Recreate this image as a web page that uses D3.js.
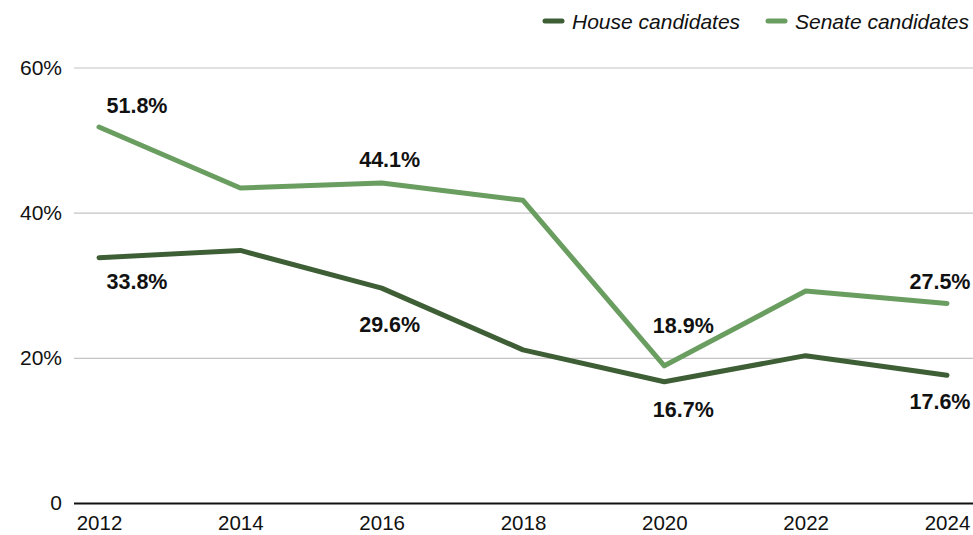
<!DOCTYPE html>
<html>
<head>
<meta charset="utf-8">
<script src="https://cdn.jsdelivr.net/npm/d3@7"></script>
<style>
  body { margin: 0; background: #fff; }
  svg { display: block; font-family: "Liberation Sans", Arial, Helvetica, sans-serif; }
</style>
</head>
<body>
<svg></svg>
<script>
let years = [2012, 2014, 2016, 2018, 2020, 2022, 2024];
let house = [33.8, 34.8, 29.6, 21.1, 16.7, 20.3, 17.6];
let senate = [51.8, 43.4, 44.1, 41.7, 18.9, 29.2, 27.5];
let yTicks = [0, 20, 40, 60];

let seriesNames = ["House candidates", "Senate candidates"];
let colors = ["#3e5f36", "#6a9e60"];

// which points get a value label (series index, year index)
let labelled = [
    [1, 0], [0, 0], [1, 2], [0, 2], [1, 4], [0, 4], [1, 6], [0, 6]
];
// hand nudges for label placement [dx, dy]
let labelNudge = [
    [38, -20], [38, 26], [8, -22], [8, 38], [19, -38], [19, 30], [-7, -20], [-7, 28]
];

let width = 973;
let height = 535;

let svg = d3.select("svg");
let xScale;
let yScale;

function drawCanvas() {
    svg.attr("width", width)
       .attr("height", height);
}

function generateScales() {
    xScale = d3.scalePoint()
               .domain(years)
               .range([99, 947]);

    yScale = d3.scaleLinear()
               .domain([0, 60])
               .range([503, 67.5]);
}

function generateAxes() {
    let yAxis = d3.axisLeft(yScale)
                  .tickValues(yTicks)
                  .tickSize(-(width - 74))
                  .tickPadding(12)
                  .tickFormat(d => d === 0 ? "0" : d + "%");

    let gy = svg.append("g")
                .attr("id", "y-axis")
                .attr("transform", "translate(74, 0)")
                .call(yAxis);
    gy.select(".domain").remove();
    gy.selectAll(".tick line")
      .attr("stroke", d => d === 0 ? "#111" : "#c4c4c4")
      .attr("stroke-width", d => d === 0 ? 2 : 1.2);
    gy.selectAll(".tick text")
      .attr("font-size", 21)
      .attr("fill", "#111");

    let xAxis = d3.axisBottom(xScale)
                  .tickSize(0)
                  .tickPadding(12);

    let gx = svg.append("g")
                .attr("id", "x-axis")
                .attr("transform", "translate(0, 503)")
                .call(xAxis);
    gx.select(".domain").remove();
    gx.selectAll(".tick text")
      .attr("font-size", 20.5)
      .attr("fill", "#111");
}

function drawLines() {
    let line = d3.line()
                 .x((d, i) => xScale(years[i]))
                 .y(d => yScale(d));

    [house, senate].forEach((values, s) => {
        svg.append("path")
           .datum(values)
           .attr("d", line)
           .attr("fill", "none")
           .attr("stroke", colors[s])
           .attr("stroke-width", 5)
           .attr("stroke-linejoin", "round")
           .attr("stroke-linecap", "round");
    });
}

function drawLabels() {
    let all = [house, senate];
    svg.selectAll(".value-label")
       .data(labelled)
       .enter()
       .append("text")
       .attr("class", "value-label")
       .attr("x", (d, i) => xScale(years[d[1]]) + labelNudge[i][0])
       .attr("y", (d, i) => yScale(all[d[0]][d[1]]) + labelNudge[i][1])
       .attr("text-anchor", "middle")
       .attr("dominant-baseline", "middle")
       .attr("font-size", 21.5)
       .attr("font-weight", "bold")
       .attr("fill", "#111")
       .text(d => all[d[0]][d[1]].toFixed(1) + "%");
}

function drawLegend() {
    let legendX = [545, 768];
    let g = svg.append("g").attr("id", "legend");
    seriesNames.forEach((name, i) => {
        g.append("line")
         .attr("x1", legendX[i])
         .attr("x2", legendX[i] + 17)
         .attr("y1", 21)
         .attr("y2", 21)
         .attr("stroke", colors[i])
         .attr("stroke-width", 5)
         .attr("stroke-linecap", "round");
        g.append("text")
         .attr("x", legendX[i] + 27)
         .attr("y", 28.5)
         .attr("font-size", 21)
         .attr("font-style", "italic")
         .attr("fill", "#111")
         .text(name);
    });
}

drawCanvas();
generateScales();
generateAxes();
drawLines();
drawLabels();
drawLegend();
</script>
</body>
</html>
